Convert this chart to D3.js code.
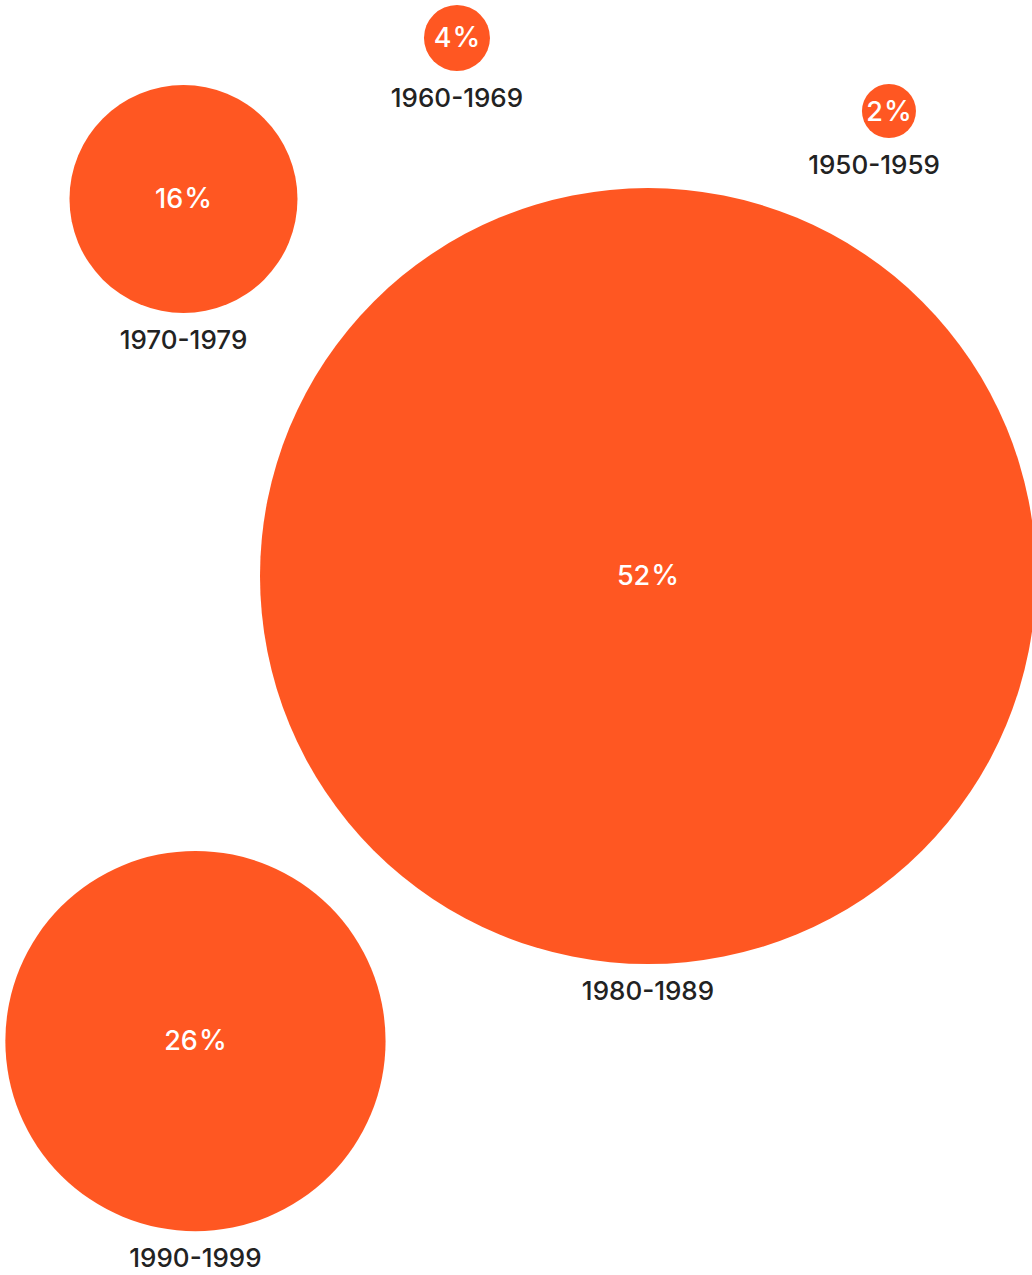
<!DOCTYPE html>
<html>
<head>
  <meta charset="utf-8">
  <title>Share by decade</title>
  <script src="https://d3js.org/d3.v7.min.js"></script>
  <style>
    html, body { margin: 0; padding: 0; background: #fff; }
    svg { display: block; }
  </style>
</head>
<body>
  <script>
    var w = 1032;
    var h = 1275;

    // data
    var decades = ["1950-1959", "1960-1969", "1970-1979", "1980-1989", "1990-1999"];
    var shares = [2, 4, 16, 52, 26];
    // bubble layout, as fractions of the canvas (settled packing positions)
    var layoutX = [0.8614, 0.4428, 0.1778, 0.6279, 0.1894];
    var layoutY = [0.0871, 0.0298, 0.1561, 0.4518, 0.8165];
    // label nudges from the collision pass
    var labelNudge = [-0.0145, 0, 0, 0, 0];

    var x = d3.scaleLinear().domain([0, 1]).range([0, w]);
    var y = d3.scaleLinear().domain([0, 1]).range([0, h]);
    var r = d3.scaleLinear().domain([4, 16, 52]).range([33, 114, 388]);
    var minR = 27;
    function radius(v) { return Math.max(r(v), minR); }

    var data = decades.map(function(d, i) {
      return {decade: d, share: shares[i], x: layoutX[i], y: layoutY[i], nudge: labelNudge[i]};
    });

    var svg = d3.select("body").append("svg").attr("width", w).attr("height", h);

    var g = svg.selectAll("g.bubble").data(data).enter().append("g")
      .attr("class", "bubble")
      .attr("transform", function(d) { return "translate(" + x(d.x) + "," + y(d.y) + ")"; });

    g.append("circle")
      .attr("r", function(d) { return radius(d.share); })
      .attr("fill", "#ff5722");

    // value label: number, then a slightly larger % sign
    var val = g.append("text")
      .attr("text-anchor", "middle")
      .attr("dy", "0.35em")
      .attr("fill", "#fff")
      .style("font-family", "Inter, 'Noto Sans', sans-serif")
      .style("font-size", "27px")
      .style("font-weight", 500);
    val.append("tspan").text(function(d) { return d.share; });
    val.append("tspan").attr("dx", 1).style("font-size", "28px").text("%");

    g.append("text")
      .attr("text-anchor", "middle")
      .attr("x", function(d) { return x(d.nudge); })
      .attr("y", function(d) { return radius(d.share) + 36; })
      .attr("fill", "#222")
      .style("font-family", "Inter, 'Noto Sans', sans-serif")
      .style("font-size", "26px")
      .style("font-weight", 500)
      .text(function(d) { return d.decade; });
  </script>
</body>
</html>
